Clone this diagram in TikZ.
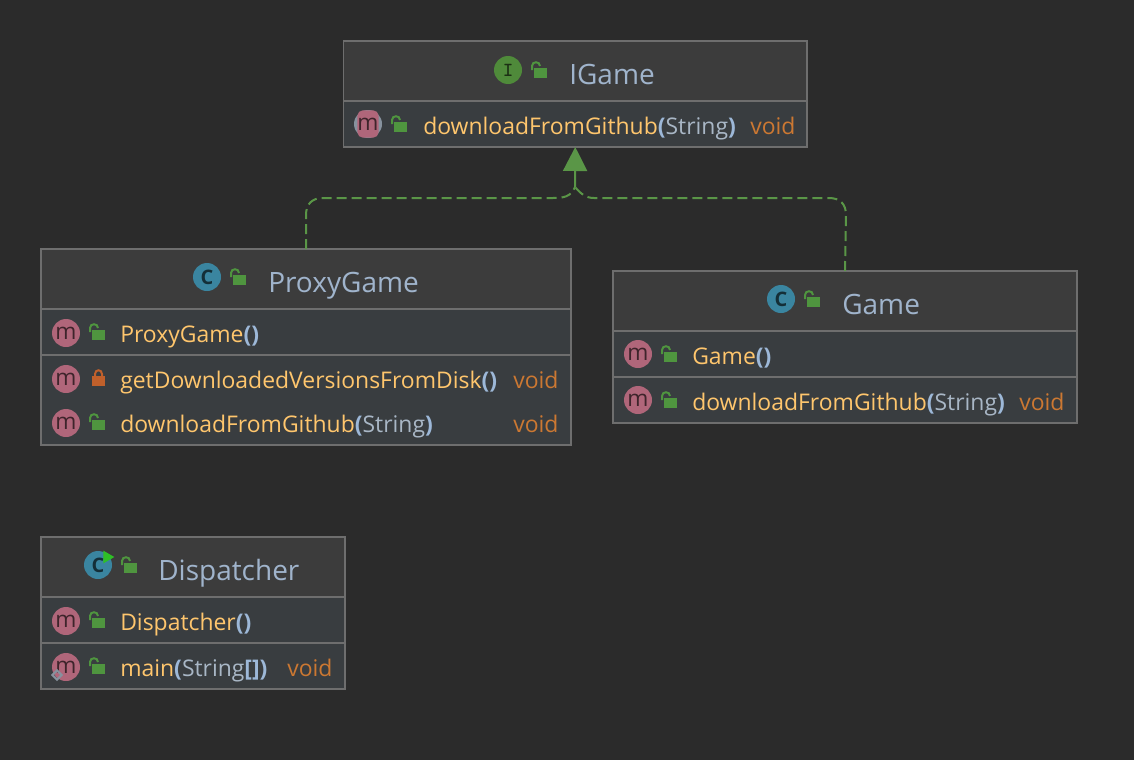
\documentclass[tikz,border=0pt]{standalone}
\usepackage{fontspec}
\setmainfont{Open Sans}
\usepackage{xcolor}
\usetikzlibrary{shapes.geometric,arrows.meta,positioning}
\definecolor{pagebg}{HTML}{2B2B2B}
\definecolor{headbg}{HTML}{3C3C3C}
\definecolor{rowbg}{HTML}{393D40}
\definecolor{edgegrey}{HTML}{6E6E6E}
\definecolor{methcol}{HTML}{FFC66D}
\definecolor{typecol}{HTML}{CC7832}
\definecolor{titlecol}{HTML}{A0B4CC}
\definecolor{argcol}{HTML}{A9B7C6}
\definecolor{parcol}{HTML}{9DB8D8}
\definecolor{pinkicon}{HTML}{B0667A}
\definecolor{blueicon}{HTML}{3A85A0}
\definecolor{greenicon}{HTML}{4F8A3A}
\definecolor{lockgreen}{HTML}{4F953F}
\definecolor{lockred}{HTML}{C0602B}
\definecolor{linkgreen}{HTML}{5A9647}
\newcommand{\pn}[1]{\textcolor{parcol}{\textbf{#1}}}
\newcommand{\argtxt}[1]{\textcolor{argcol}{#1}}
\tikzset{
headbox/.style 2 args={rectangle,draw=edgegrey,line width=1.2pt,fill=headbg,outer sep=0pt,inner sep=0pt,
  anchor=north west,minimum width=#1*.75pt,minimum height=#2*.75pt},
rowbox/.style 2 args={rectangle,draw=edgegrey,line width=1.2pt,fill=rowbg,outer sep=0pt,inner sep=0pt,
  minimum width=#1*.75pt,minimum height=#2*.75pt},
titletext/.style={anchor=base west,inner sep=0pt,text=titlecol,font=\fontsize{21}{24}\selectfont},
methtext/.style={anchor=base west,inner sep=0pt,text=methcol,font=\fontsize{17.2}{20}\selectfont},
typetext/.style={anchor=base west,inner sep=0pt,text=typecol,font=\fontsize{17.2}{20}\selectfont},
methicon/.style={circle,fill=pinkicon,inner sep=0pt,minimum size=21pt,text=pinkicon!35!black,font=\fontsize{17}{17}\selectfont},
classicon/.style={circle,fill=blueicon,inner sep=0pt,minimum size=21pt,text=blueicon!35!black,font=\bfseries\fontsize{15}{15}\selectfont},
ifaceicon/.style={circle,fill=greenicon,inner sep=0pt,minimum size=21pt,text=greenicon!35!black,font=\ttfamily\bfseries\fontsize{15}{15}\selectfont},
openlock/.pic={
  \fill[lockgreen] (0,0) rectangle (13,-10);
  \draw[lockgreen,line width=1.5pt] (-2,-8) -- (-2,-12) .. controls (-2,-17) and (6,-17) .. (6,-12);
},
shutlock/.pic={
  \fill[lockred] (0,0) rectangle (13,-10);
  \draw[lockred,line width=1.5pt] (3,-9) -- (3,-12) .. controls (3,-17) and (10,-17) .. (10,-12) -- (10,-9);
},
linkline/.style={draw=linkgreen,line width=1.5pt,dash pattern=on 7.5pt off 3.75pt},
linkhead/.style={draw=linkgreen,line width=1.5pt,-{Triangle[length=18pt,width=18pt,fill=linkgreen]}}
}

\begin{document}
\begin{tikzpicture}[x=.75pt,y=-.75pt]
\fill[pagebg] (0,0) rectangle (1134,760);
\useasboundingbox (0,0) rectangle (1134,760);

% IGame
\node[headbox={463.5}{60}] (igame) at (343.5,41) {};
\node[rowbox={463.5}{46},below=0pt of igame] (igamerow) {};
\node[ifaceicon] (igameicon) at (508,70) {I};
\pic at (534,78) {openlock};
\node[titletext] (igametitle) at (569,84) {IGame};
\node[methicon,fill=argcol!80!black] (igamedlring) at (368,124) {};
\node[rectangle,rounded corners=4pt,fill=pinkicon,inner sep=0pt,minimum width=13.5pt,minimum height=20.5pt,text=pinkicon!35!black,font=\fontsize{17}{17}\selectfont] (igamedlicon) at (368,124) {m};
\pic at (394,132) {openlock};
\node[methtext] (igamedl) at (423,134) {downloadFromGithub\pn{(}\argtxt{String}\pn{)}};
\node[typetext] (igamedltype) at (750,134) {void};

% ProxyGame
\node[headbox={530}{60}] (proxygame) at (41,249) {};
\node[rowbox={530}{46},below=0pt of proxygame] (proxyrowa) {};
\node[rowbox={530}{90},below=0pt of proxyrowa] (proxyrowb) {};
\node[classicon] (proxyicon) at (207,277) {C};
\pic at (233,285) {openlock};
\node[titletext] (proxytitle) at (268,292) {ProxyGame};
\node[methicon] (proxyctoricon) at (66,333) {m};
\pic at (92,340) {openlock};
\node[methtext] (proxyctor) at (120,342) {ProxyGame\pn{()}};
\node[methicon] (proxydiskicon) at (66,379) {m};
\pic at (92,386) {shutlock};
\node[methtext] (proxydisk) at (120,388) {getDownloadedVersionsFromDisk\pn{()}};
\node[typetext] (proxydisktype) at (513,388) {void};
\node[methicon] (proxydlicon) at (66,423) {m};
\pic at (92,430) {openlock};
\node[methtext] (proxydl) at (120,432) {downloadFromGithub\pn{(}\argtxt{String}\pn{)}};
\node[typetext] (proxydltype) at (513,432) {void};

% Game
\node[headbox={464}{60}] (game) at (613,271) {};
\node[rowbox={464}{46},below=0pt of game] (gamerowa) {};
\node[rowbox={464}{46},below=0pt of gamerowa] (gamerowb) {};
\node[classicon] (gameicon) at (781,299) {C};
\pic at (807,307) {openlock};
\node[titletext] (gametitle) at (842,314) {Game};
\node[methicon] (gamectoricon) at (638,354) {m};
\pic at (664,362) {openlock};
\node[methtext] (gamector) at (692,364) {Game\pn{()}};
\node[methicon] (gamedlicon) at (638,400) {m};
\pic at (664,408) {openlock};
\node[methtext] (gamedl) at (692,410) {downloadFromGithub\pn{(}\argtxt{String}\pn{)}};
\node[typetext] (gamedltype) at (1019,410) {void};

% Dispatcher
\node[headbox={304}{60}] (dispatcher) at (41,537) {};
\node[rowbox={304}{46},below=0pt of dispatcher] (disprowa) {};
\node[rowbox={304}{46},below=0pt of disprowa] (disprowb) {};
\node[classicon] (dispicon) at (98,565) {C};
\node[regular polygon,regular polygon sides=3,shape border rotate=-90,fill=lockgreen!60!green,inner sep=0pt,minimum size=11pt] (disprun) at (107,557) {};
\pic at (124,573) {openlock};
\node[titletext] (disptitle) at (158,580) {Dispatcher};
\node[methicon] (dispctoricon) at (66,621) {m};
\pic at (92,628) {openlock};
\node[methtext] (dispctor) at (120,630) {Dispatcher\pn{()}};
\node[methicon] (dispmainicon) at (66,667) {m};
\node[diamond,draw=argcol!80!black,line width=1.6pt,inner sep=0pt,minimum size=7.5pt] (dispstatic) at (57,675) {};
\pic at (92,674) {openlock};
\node[methtext] (dispmain) at (120,676) {main\pn{(}\argtxt{String}\pn{[])}};
\node[typetext] (dispmaintype) at (287,676) {void};

% realization links
\coordinate (linkjoin) at (575,187);
\draw[linkline] (proxygame.north) -- (306,215) .. controls (306,204) and (312,198) .. (323,198) -- (553,198) .. controls (563,198) and (571,197) .. (linkjoin);
\draw[linkline] (game.north) -- (846,215) .. controls (846,204) and (840,198) .. (829,198) -- (594,198) .. controls (586,198) and (581,194) .. (linkjoin);
\draw[linkhead] (linkjoin) -- (igamerow.south);
\end{tikzpicture}
\end{document}
